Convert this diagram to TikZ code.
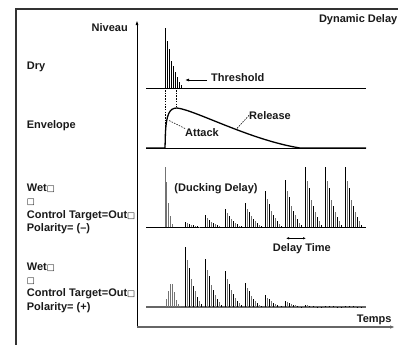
\documentclass[tikz,border=0pt]{standalone}
\usepackage{fontspec}
\setmainfont{Liberation Sans}
\newfontfamily\boxfont{DejaVu Sans}
\usetikzlibrary{arrows.meta}
\newcommand\bx{{\boxfont\bfseries\fontsize{8.5bp}{10bp}\selectfont □}}
\newcommand\barlist[5]{% x0, baseline, dx, heights, colour
  \foreach \h [count=\i] in {#4}{\draw[bar,#5] ({#1+#3*(\i-1)},#2) -- ++(0,-\h);}}
\newcommand\grp[3]{% x0, baseline, peak
  \foreach \p [count=\i] in {1,.78,.65,.46,.35,.26,.17,.1,.045}{%
    \ifodd\i\relax\def\cc{black}\else\def\cc{black!55}\fi
    \draw[bar,\cc] ({#1+2*(\i-1)},#2) -- ++(0,{-#3*\p});}}
\begin{document}
\begin{tikzpicture}[x=1bp,y=-1bp,
  lbl/.style={inner sep=0pt, font=\bfseries\fontsize{11bp}{13bp}\selectfont, text=black!90},
  bar/.style={line width=1bp},
  baseln/.style={line width=1bp, black},
  framel/.style={line width=1.2bp, black!80},
  leader/.style={line width=0.6bp, dash pattern=on 1.5bp off 1.2bp},
  tipL/.style={-{Latex[length=4bp,width=3bp]}}]
\useasboundingbox (0,0) rectangle (398,345);
% frame
\draw[framel] (16,345) -- (16,9) -- (398,9);
% axes
\coordinate (O) at (137,327);
\coordinate (Ytop) at (137,20);
\coordinate (Xend) at (395,327);
\draw[line width=1bp, -{Latex[length=5bp,width=3bp]}] (O) -- (Ytop);
\draw[line width=1.3bp, black!60, -{Latex[length=5bp,width=3.5bp]}] (O) -- (Xend);
% baselines
\draw[baseln] (146,88.3) -- (366,88.3);
\draw[baseln] (146,148) -- (366,148);
\draw[baseln] (146,227.3) -- (366,227.3);
\draw[line width=1.2bp, black!60] (146,307) -- (366,307);
% Dry bars
\barlist{165.7}{88.3}{2}{60,47.7,39,27.7,22.3,16.7,11,6.7,3.3}{black}
% dashed verticals
\draw[leader] (165.2,90) -- (165.2,128);
\draw[leader] (176.7,90) -- (176.7,107);
% envelope
\draw[line width=1.3bp] (146,148) -- (165,148) -- (165.4,134)
  .. controls (166.3,114) and (169.5,108) .. (177,108)
  .. controls (195,110) and (250,140) .. (300,148) -- (366,148);
% Wet 1 (ducking)
\barlist{165}{227.3}{1.8}{60,45,24,11,3}{black!55}
\foreach \x/\pk in {185/5.7,205/12,225/18,245/24,265/36,285/47,305/60,325/60,345/60}{\grp{\x}{227.3}{\pk}}
% Wet 2 (polarity +)
\barlist{166}{307}{2}{8,16,23,23,15,7,3,1.5}{black!55}
\foreach \x/\pk in {185/60,205/48,225/36,245/24,265/12,285/6,305/2,325/1.5,345/1.5}{\grp{\x}{307}{\pk}}
% labels
\node[lbl, anchor=base east] (niveau) at (128,31.7) {Niveau};
\node[lbl, anchor=base east] (title) at (397.5,22) {Dynamic Delay};
\node[lbl, anchor=base west] (dry) at (26.7,69.6) {Dry};
\node[lbl, anchor=base west] (env) at (26.7,128.5) {Envelope};
\node[lbl, anchor=base west] (w1a) at (26.7,191.5) {Wet\bx};
\node[lbl, anchor=base west] (w1b) at (26.7,204.8) {\bx};
\node[lbl, anchor=base west] (w1c) at (26.7,218.1) {Control Target=Out\bx};
\node[lbl, anchor=base west] (w1d) at (26.7,231.4) {Polarity= (–)};
\node[lbl, anchor=base west] (w2a) at (26.7,270) {Wet\bx};
\node[lbl, anchor=base west] (w2b) at (26.7,283.3) {\bx};
\node[lbl, anchor=base west] (w2c) at (26.7,296.6) {Control Target=Out\bx};
\node[lbl, anchor=base west] (w2d) at (26.7,310) {Polarity= (+)};
\node[lbl, anchor=base west] (threshold) at (211,81.7) {Threshold};
\node[lbl, anchor=base west] (release) at (249,119.3) {Release};
\node[lbl, anchor=base west] (attack) at (185,136.7) {Attack};
\node[lbl, anchor=base west] (ducking) at (174.3,191) {(Ducking Delay)};
\node[lbl, anchor=base west] (delaytime) at (272.7,251.3) {Delay Time};
\node[lbl, anchor=base west] (temps) at (356.7,322.5) {Temps};
% leaders
\coordinate (thrS) at (207,80);
\coordinate (thrE) at (185,80);
\draw[line width=0.8bp, tipL] (thrS) -- (thrE);
\coordinate (attP) at (169,120.5);
\draw[leader] (attack.north west) -- (attP);
\coordinate (relP) at (236,129.5);
\draw[leader] (release.west) -- (relP);
\coordinate (dtA) at (286,238.3);
\coordinate (dtB) at (306,238.3);
\draw[line width=0.7bp, {Latex[length=3bp,width=2.5bp]}-{Latex[length=3bp,width=2.5bp]}] (dtA) -- (dtB);
\end{tikzpicture}
\end{document}
